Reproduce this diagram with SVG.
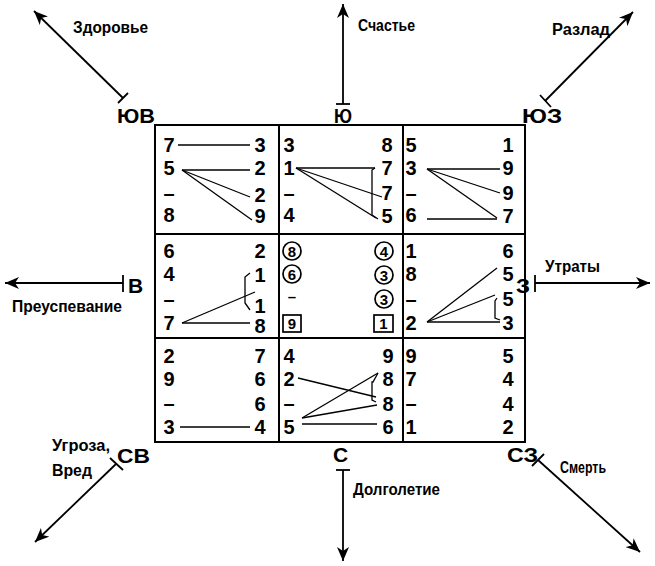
<svg xmlns="http://www.w3.org/2000/svg" width="655" height="566" viewBox="0 0 655 566">
<defs>
<style>
.n{font-family:"Liberation Sans",Arial,sans-serif;font-weight:bold;font-size:20px;text-anchor:middle;fill:#000}
.s{font-family:"Liberation Sans",Arial,sans-serif;font-weight:bold;font-size:15px;text-anchor:middle;fill:#000}
.d{font-family:"Liberation Sans",Arial,sans-serif;font-weight:bold;font-size:21px;fill:#000}
.l{font-family:"Liberation Sans",Arial,sans-serif;font-weight:bold;font-size:16px;fill:#000}
.g{fill:none;stroke:#000;stroke-width:2}
.c{fill:none;stroke:#000;stroke-width:1.3}
.o{fill:none;stroke:#000;stroke-width:1.7}
.a{fill:none;stroke:#000;stroke-width:1.8}
</style>
<marker id="ah" markerWidth="16" markerHeight="12" refX="14" refY="6" orient="auto" markerUnits="userSpaceOnUse">
<path d="M0,0 L14,6 L0,12 L4,6 Z" fill="#000"/>
</marker>
</defs>
<rect width="655" height="566" fill="#fff"/>

<g id="grid">
<rect class="g" x="155" y="125" width="370" height="317"/>
<line class="g" x1="279" y1="125" x2="279" y2="442"/>
<line class="g" x1="403" y1="125" x2="403" y2="442"/>
<line class="g" x1="155" y1="234" x2="525" y2="234"/>
<line class="g" x1="155" y1="338" x2="525" y2="338"/>
</g>

<g id="connectors">
<!-- cell SE (top-left) -->
<line class="c" x1="178" y1="145" x2="250" y2="145"/>
<line class="c" x1="182" y1="170" x2="250" y2="170"/>
<line class="c" x1="182" y1="170" x2="250" y2="197"/>
<line class="c" x1="182" y1="170" x2="252" y2="220"/>
<!-- cell S (top-middle) -->
<line class="c" x1="296" y1="168" x2="375" y2="168"/>
<line class="c" x1="296" y1="168" x2="382" y2="197"/>
<line class="c" x1="296" y1="168" x2="376" y2="218"/>
<path class="c" d="M375,168 L372,170 L372,215 L378,219"/>
<!-- cell SW (top-right) -->
<line class="c" x1="427" y1="169" x2="500" y2="169"/>
<line class="c" x1="427" y1="169" x2="500" y2="193"/>
<line class="c" x1="427" y1="169" x2="497" y2="218"/>
<line class="c" x1="427" y1="219" x2="497" y2="219"/>
<!-- cell E (middle-left) -->
<line class="c" x1="182" y1="323" x2="250" y2="323"/>
<line class="c" x1="182" y1="323" x2="255" y2="292"/>
<path class="c" d="M250,273 L245,277 L245,303 L250,310"/>
<!-- cell W (middle-right) -->
<line class="c" x1="427" y1="322" x2="497" y2="268"/>
<line class="c" x1="427" y1="322" x2="495" y2="295"/>
<line class="c" x1="427" y1="322" x2="500" y2="322"/>
<path class="c" d="M497,298 L495,301 L495,318 L500,320"/>
<!-- cell NE (bottom-left) -->
<line class="c" x1="180" y1="427" x2="250" y2="427"/>
<!-- cell N (bottom-middle) -->
<line class="c" x1="298" y1="378" x2="376" y2="397"/>
<line class="c" x1="302" y1="418" x2="378" y2="373"/>
<line class="c" x1="302" y1="418" x2="377" y2="405"/>
<line class="c" x1="302" y1="424" x2="377" y2="424"/>
<path class="c" d="M378,373 L373,382 L372,382 L372,400 L376,402"/>
<!-- direction arrows -->
<line class="a" x1="123" y1="98" x2="34" y2="11" marker-end="url(#ah)"/>
<line class="a" x1="118" y1="103" x2="128" y2="93"/>
<line class="a" x1="343" y1="104" x2="343" y2="4" marker-end="url(#ah)"/>
<line class="a" x1="336" y1="104" x2="350" y2="104"/>
<line class="a" x1="545" y1="101" x2="633" y2="12" marker-end="url(#ah)"/>
<line class="a" x1="540" y1="95" x2="551" y2="107"/>
<line class="a" x1="123" y1="283" x2="5" y2="283" marker-end="url(#ah)"/>
<line class="a" x1="123" y1="275" x2="123" y2="292"/>
<line class="a" x1="535" y1="283" x2="650" y2="283" marker-end="url(#ah)"/>
<line class="a" x1="535" y1="275" x2="535" y2="292"/>
<line class="a" x1="116" y1="464" x2="35" y2="542" marker-end="url(#ah)"/>
<line class="a" x1="110" y1="458" x2="123" y2="470"/>
<line class="a" x1="343" y1="470" x2="343" y2="561" marker-end="url(#ah)"/>
<line class="a" x1="336" y1="470" x2="350" y2="470"/>
<line class="a" x1="538" y1="460" x2="640" y2="552" marker-end="url(#ah)"/>
<line class="a" x1="544" y1="454" x2="532" y2="466"/>
</g>

<g id="cell-SE">
<text class="n" x="169" y="152">7</text><text class="n" x="169" y="175">5</text><text class="n" x="169" y="200">–</text><text class="n" x="169" y="222">8</text>
<text class="n" x="260" y="152">3</text><text class="n" x="260" y="175">2</text><text class="n" x="260" y="202">2</text><text class="n" x="260" y="223">9</text>
</g>
<g id="cell-S">
<text class="n" x="289" y="152">3</text><text class="n" x="289" y="175">1</text><text class="n" x="289" y="200">–</text><text class="n" x="289" y="222">4</text>
<text class="n" x="387" y="152">8</text><text class="n" x="387" y="175">7</text><text class="n" x="387" y="200">7</text><text class="n" x="387" y="223">5</text>
</g>
<g id="cell-SW">
<text class="n" x="411" y="152">5</text><text class="n" x="411" y="175">3</text><text class="n" x="411" y="200">–</text><text class="n" x="411" y="222">6</text>
<text class="n" x="508" y="152">1</text><text class="n" x="508" y="175">9</text><text class="n" x="508" y="200">9</text><text class="n" x="508" y="223">7</text>
</g>
<g id="cell-E">
<text class="n" x="169" y="258">6</text><text class="n" x="169" y="281">4</text><text class="n" x="169" y="306">–</text><text class="n" x="169" y="330">7</text>
<text class="n" x="260" y="258">2</text><text class="n" x="260" y="282">1</text><text class="n" x="260" y="313">1</text><text class="n" x="260" y="333">8</text>
</g>
<g id="cell-center">
<circle class="o" cx="292" cy="251" r="9"/><text class="s" x="292" y="256.5">8</text>
<circle class="o" cx="292" cy="274" r="9"/><text class="s" x="292" y="279.5">6</text>
<text class="s" x="292" y="302">–</text>
<rect class="o" x="283" y="315" width="18" height="17"/><text class="s" x="292" y="329">9</text>
<circle class="o" cx="384" cy="251" r="9"/><text class="s" x="384" y="256.5">4</text>
<circle class="o" cx="384" cy="275" r="9"/><text class="s" x="384" y="280.5">3</text>
<circle class="o" cx="384" cy="299" r="9"/><text class="s" x="384" y="304.5">3</text>
<rect class="o" x="374" y="315" width="19" height="17"/><text class="s" x="383.5" y="329">1</text>
</g>
<g id="cell-W">
<text class="n" x="411" y="258">1</text><text class="n" x="411" y="281">8</text><text class="n" x="411" y="306">–</text><text class="n" x="411" y="330">2</text>
<text class="n" x="508" y="258">6</text><text class="n" x="508" y="281">5</text><text class="n" x="508" y="306">5</text><text class="n" x="508" y="330">3</text>
</g>
<g id="cell-NE">
<text class="n" x="169" y="363">2</text><text class="n" x="169" y="386">9</text><text class="n" x="169" y="410">–</text><text class="n" x="169" y="434">3</text>
<text class="n" x="260" y="363">7</text><text class="n" x="260" y="386">6</text><text class="n" x="260" y="411">6</text><text class="n" x="260" y="434">4</text>
</g>
<g id="cell-N">
<text class="n" x="289" y="363">4</text><text class="n" x="289" y="386">2</text><text class="n" x="289" y="410">–</text><text class="n" x="289" y="434">5</text>
<text class="n" x="388" y="363">9</text><text class="n" x="388" y="386">8</text><text class="n" x="388" y="411">8</text><text class="n" x="388" y="434">6</text>
</g>
<g id="cell-NW">
<text class="n" x="411" y="363">9</text><text class="n" x="411" y="386">7</text><text class="n" x="411" y="410">–</text><text class="n" x="411" y="434">1</text>
<text class="n" x="508" y="363">5</text><text class="n" x="508" y="386">4</text><text class="n" x="508" y="411">4</text><text class="n" x="508" y="434">2</text>
</g>

<g id="dir-SE"><text class="d" x="117" y="123" textLength="38" lengthAdjust="spacingAndGlyphs">ЮВ</text><text class="l" x="73" y="33" textLength="75" lengthAdjust="spacingAndGlyphs">Здоровье</text></g>
<g id="dir-S"><text class="d" x="334" y="123" textLength="18" lengthAdjust="spacingAndGlyphs">Ю</text><text class="l" x="358" y="31" textLength="57" lengthAdjust="spacingAndGlyphs">Счастье</text></g>
<g id="dir-SW"><text class="d" x="522" y="123" textLength="40" lengthAdjust="spacingAndGlyphs">ЮЗ</text><text class="l" x="552" y="35" textLength="58" lengthAdjust="spacingAndGlyphs">Разлад</text></g>
<g id="dir-E"><text class="d" x="128" y="293">В</text><text class="l" x="12" y="312" textLength="110" lengthAdjust="spacingAndGlyphs">Преуспевание</text></g>
<g id="dir-W"><text class="d" x="516" y="293" textLength="14" lengthAdjust="spacingAndGlyphs">З</text><text class="l" x="545" y="272" textLength="55" lengthAdjust="spacingAndGlyphs">Утраты</text></g>
<g id="dir-NE"><text class="d" x="117" y="463" textLength="33" lengthAdjust="spacingAndGlyphs">СВ</text><text class="l" x="52" y="451" textLength="58" lengthAdjust="spacingAndGlyphs">Угроза,</text><text class="l" x="52" y="476" textLength="40" lengthAdjust="spacingAndGlyphs">Вред</text></g>
<g id="dir-N"><text class="d" x="333" y="462">С</text><text class="l" x="353" y="495" textLength="87" lengthAdjust="spacingAndGlyphs">Долголетие</text></g>
<g id="dir-NW"><text class="d" x="507" y="462" textLength="31" lengthAdjust="spacingAndGlyphs">СЗ</text><text class="l" x="560" y="473" textLength="46" lengthAdjust="spacingAndGlyphs">Смерть</text></g>
</svg>
